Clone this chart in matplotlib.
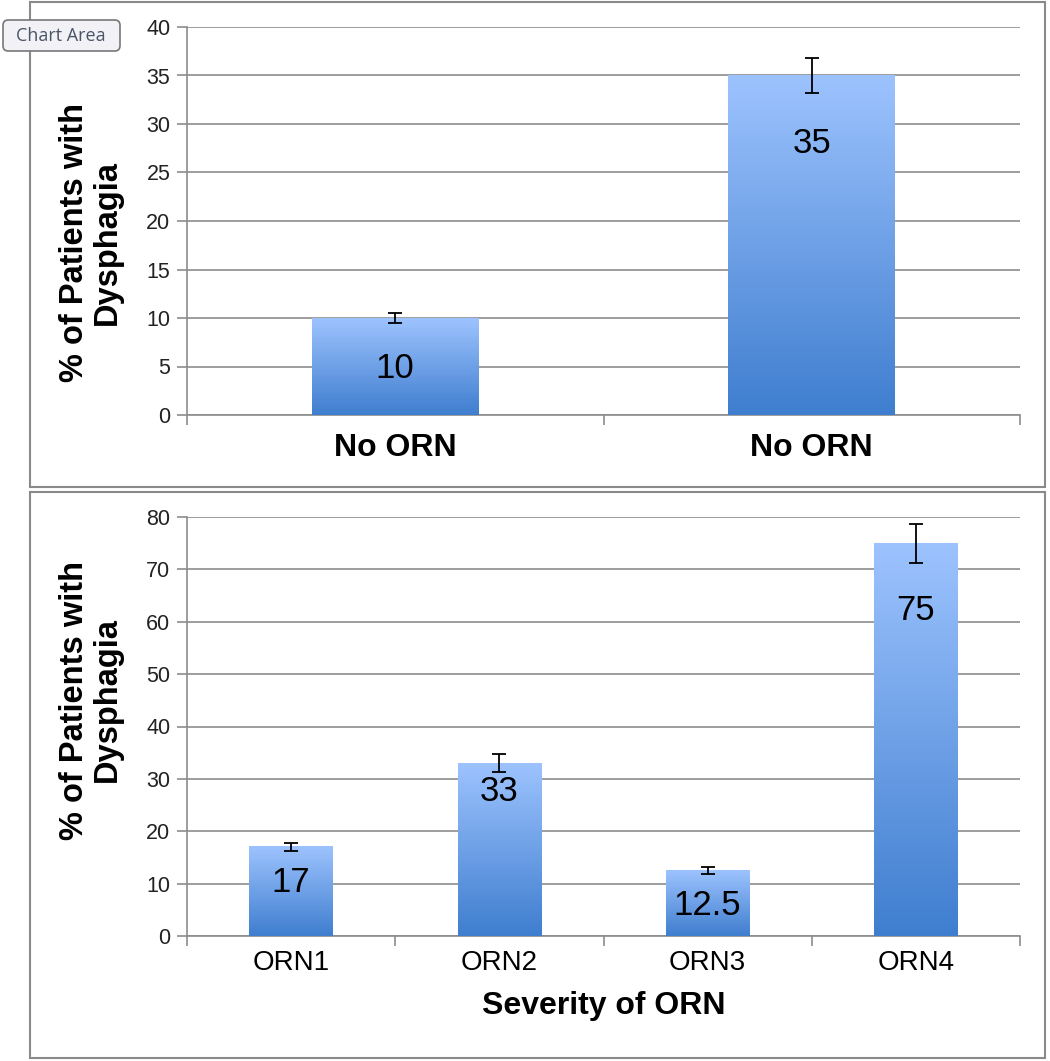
import numpy as np
import matplotlib.pyplot as plt
from matplotlib.colors import LinearSegmentedColormap
from matplotlib.patches import Rectangle, FancyBboxPatch

plt.rcParams['font.family'] = ['Liberation Sans', 'DejaVu Sans']

# top panel data
top_cats = ['No ORN', 'No ORN']
top_vals = [10, 35]
top_err = [0.55, 1.8]
top_lab_y = [4.8, 28.0]

# bottom panel data
bot_cats = ['ORN1', 'ORN2', 'ORN3', 'ORN4']
bot_vals = [17, 33, 12.5, 75]
bot_err = [0.8, 1.7, 0.6, 3.7]
bot_lab_y = [10.3, 27.6, 5.9, 62.2]
bot_lab_txt = ['17', '33', '12.5', '75']

W, H = 1050, 1061
fig = plt.figure(figsize=(W / 100, H / 100), dpi=100)

grad = LinearSegmentedColormap.from_list('g', ['#3f7ecf', '#9dc3fe'])
gimg = np.linspace(0, 1, 256).reshape(-1, 1)
gridc = '#8c8c8c'


def px(x0, y0, x1, y1):
    # pixel box -> figure fraction rect
    return [x0 / W, 1 - y1 / H, (x1 - x0) / W, (y1 - y0) / H]


def panel(ax, cats, vals, errs, lab_y, lab_txt, ymax, step, cat_fs, cat_bold, cat_pad):
    n = len(cats)
    xs = np.arange(n)
    bars = ax.bar(xs, vals, width=0.4, color='none', zorder=3)
    for b in bars:
        x0, w, h = b.get_x(), b.get_width(), b.get_height()
        ax.imshow(gimg, cmap=grad, origin='lower', aspect='auto',
                  extent=(x0, x0 + w, 0, h), zorder=3)
    ax.set_xlim(-0.5, n - 0.5)
    ax.set_ylim(0, ymax)
    ax.errorbar(xs, vals, yerr=errs, fmt='none', ecolor='black', elinewidth=1.3,
                capsize=5, capthick=1.3, zorder=4)
    for x, y, t in zip(xs, lab_y, lab_txt):
        ax.text(x, y, t, ha='center', va='center', fontsize=25, zorder=5)
    ax.set_yticks(np.arange(0, ymax + 0.1, step))
    ax.yaxis.grid(True, color=gridc, linewidth=1.2, zorder=0)
    ax.set_axisbelow(True)
    ax.set_xticks(np.arange(n + 1) - 0.5)
    ax.set_xticklabels([])
    ax.set_xticks(xs, minor=True)
    ax.set_xticklabels(cats, minor=True, fontsize=cat_fs,
                       fontweight='bold' if cat_bold else 'normal')
    ax.tick_params(axis='x', which='minor', length=0, pad=cat_pad)
    ax.tick_params(axis='x', which='major', length=7, color=gridc, width=1.2)
    ax.tick_params(axis='y', length=7, color=gridc, width=1.2, labelsize=15.5,
                   pad=5, labelcolor='#222222')
    for s in ['top', 'right']:
        ax.spines[s].set_visible(False)
    for s in ['left', 'bottom']:
        ax.spines[s].set_color(gridc)
        ax.spines[s].set_linewidth(1.2)


ax1 = fig.add_axes(px(187, 27, 1020, 415))
panel(ax1, top_cats, top_vals, top_err, top_lab_y, [str(v) for v in top_vals],
      40, 5, 23, True, 13)

ax2 = fig.add_axes(px(187, 517, 1020, 936))
panel(ax2, bot_cats, bot_vals, bot_err, bot_lab_y, bot_lab_txt,
      80, 10, 20, False, 10)
ax2.set_xlabel('Severity of ORN', fontsize=23, fontweight='bold', labelpad=11)

ylab = '% of Patients with\nDysphagia'
fig.text(91 / W, 1 - 243 / H, ylab, rotation=90, ha='center', va='center',
         fontsize=23.5, fontweight='bold', multialignment='center',
         linespacing=1.05)
fig.text(91 / W, 1 - 700 / H, ylab, rotation=90, ha='center', va='center',
         fontsize=23.5, fontweight='bold', multialignment='center',
         linespacing=1.05)

# outer chart boxes
for r in [px(30, 2, 1045, 487), px(30, 492, 1045, 1058)]:
    fig.patches.append(Rectangle((r[0], r[1]), r[2], r[3], transform=fig.transFigure,
                                 fill=False, edgecolor='#8a8a8a', linewidth=1.5))

# tooltip
fig.patches.append(FancyBboxPatch((3 / W, 1 - 51 / H), 117 / W, 31 / H,
                                  boxstyle='round,pad=0,rounding_size=0.005',
                                  transform=fig.transFigure, facecolor='#f2f2f6',
                                  edgecolor='#777777', linewidth=1.2, zorder=10))
fig.text(61 / W, 1 - 36 / H, 'Chart Area', ha='center', va='center', fontsize=13,
         color='#4a5468', family=['Open Sans', 'DejaVu Sans'], zorder=11)

fig.savefig('out.png', dpi=100)
